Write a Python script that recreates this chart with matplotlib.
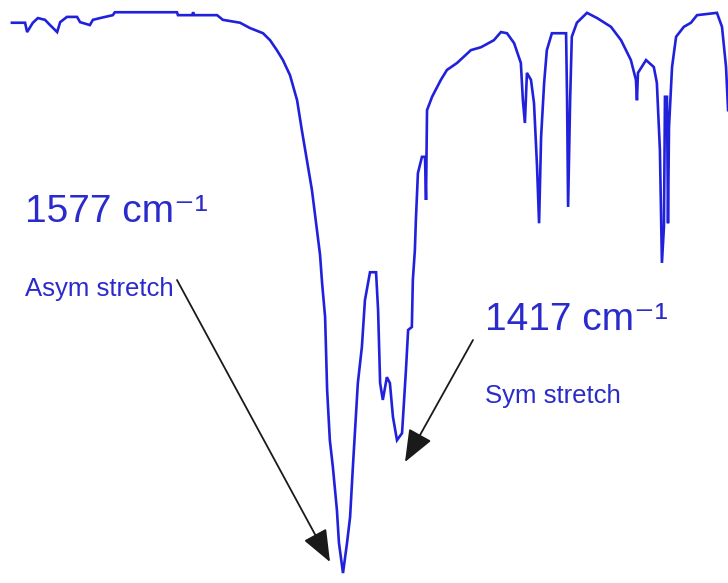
import matplotlib
matplotlib.use("Agg")
import matplotlib.pyplot as plt

# IR spectrum (wavenumber cm-1, % transmittance)
wavenumber = [2558, 2519, 2513, 2496, 2481, 2460, 2445, 2424, 2415, 2395, 2365, 2356,
              2327, 2318, 2297, 2259, 2253, 2069, 2066, 2024, 2021, 2018, 1950, 1933,
              1882, 1853, 1814, 1793, 1773, 1755, 1734, 1713, 1699, 1684, 1669, 1654,
              1645, 1639, 1630, 1624, 1616, 1607, 1595, 1589, 1577, 1565, 1556, 1547,
              1539, 1533, 1521, 1512, 1497, 1479, 1473, 1467, 1459, 1447, 1438, 1429,
              1417, 1402, 1396, 1390, 1384, 1373, 1370, 1364, 1361, 1355, 1343, 1334,
              1331, 1328, 1313, 1287, 1269, 1239, 1198, 1168, 1130, 1109, 1091, 1070,
              1050, 1044, 1038, 1032, 1020, 1011, 1002, 996, 990, 981, 973, 958,
              916, 913, 910, 904, 899, 884, 854, 824, 783, 753, 724, 709,
              706, 703, 679, 656, 647, 638, 632, 626, 623, 617, 614, 611,
              602, 590, 567, 546, 528, 469, 454, 442, 436]
transmittance = [96.1, 96.1, 94.5, 96.1, 96.9, 96.6, 95.7, 94.5, 96.2, 97.1, 97.1, 96.2,
                 95.7, 96.6, 96.9, 97.4, 97.9, 97.9, 97.4, 97.4, 97.9, 97.4, 97.4, 96.6,
                 96.1, 95.2, 94.3, 93.1, 91.4, 89.7, 87.1, 82.8, 77.7, 72.6, 67.4, 60.5,
                 56.3, 51.5, 45.6, 33.1, 24.5, 19.9, 12.5, 6.9, 1.7, 6.9, 11.3, 20.6,
                 28.5, 34.3, 40.5, 48.5, 53.3, 53.3, 46.8, 34.3, 31.4, 35.3, 34.3, 28.5,
                 24.5, 25.7, 31.4, 37.0, 43.4, 43.9, 52.0, 57.1, 62.3, 70.3, 73.1, 73.1,
                 65.7, 81.1, 83.4, 86.3, 88.0, 89.2, 91.4, 91.9, 93.1, 94.5, 94.3, 92.6,
                 89.2, 82.8, 78.9, 87.5, 86.3, 82.3, 71.4, 61.7, 76.5, 85.8, 91.4, 94.3,
                 94.3, 82.8, 64.5, 82.8, 93.7, 96.1, 97.8, 96.9, 95.4, 93.1, 89.7, 86.3,
                 82.8, 87.5, 89.7, 88.5, 85.8, 74.3, 54.9, 61.1, 83.4, 83.4, 61.7, 78.2,
                 88.5, 93.7, 95.4, 96.1, 97.4, 97.8, 95.4, 88.5, 81.1]

peak_labels = ["1577 cm\u207b\u00b9", "1417 cm\u207b\u00b9"]
peak_notes = ["Asym stretch", "Sym stretch"]

W, H = 728, 583
fig = plt.figure(figsize=(W / 100, H / 100), dpi=100)
ax = fig.add_axes([0, 0, 1, 1])
ax.set_xlim(2593.3, 436.2)
ax.set_ylim(0, 100)
ax.axis("off")

ax.plot(wavenumber, transmittance, color="#2121dc", lw=1.9, solid_joinstyle="miter")

fam = ["Liberation Sans", "DejaVu Sans"]
tcol = "#2b2bcc"

def fx(px):
    return px / W

def fy(py):
    return 1 - py / H

ax.text(fx(25), fy(222), peak_labels[0], transform=ax.transAxes, fontsize=28,
        family=fam, color=tcol, ha="left", va="baseline")
ax.text(fx(25), fy(296), peak_notes[0], transform=ax.transAxes, fontsize=18.5,
        family=fam, color=tcol, ha="left", va="baseline")
ax.text(fx(485), fy(330), peak_labels[1], transform=ax.transAxes, fontsize=28,
        family=fam, color=tcol, ha="left", va="baseline")
ax.text(fx(485), fy(403), peak_notes[1], transform=ax.transAxes, fontsize=18.5,
        family=fam, color=tcol, ha="left", va="baseline")

aprops = dict(arrowstyle="-|>,head_length=1.0,head_width=0.4", lw=1.3,
              color="#1a1a1a", mutation_scale=20, shrinkA=0, shrinkB=0)
ax.annotate("", xy=(fx(330), fy(562)), xytext=(fx(177), fy(280)),
            xycoords="axes fraction", textcoords="axes fraction", arrowprops=aprops)
ax.annotate("", xy=(fx(405), fy(462)), xytext=(fx(473), fy(340)),
            xycoords="axes fraction", textcoords="axes fraction", arrowprops=aprops)

fig.savefig("out.png", dpi=100, facecolor="white")
